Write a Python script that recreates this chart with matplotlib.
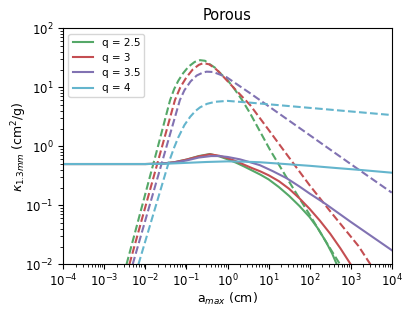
import numpy as np
import matplotlib
matplotlib.use('Agg')
import matplotlib.pyplot as plt

# Colours (old seaborn "deep")
colors = {'2.5': '#55A868', '3': '#C44E52', '3.5': '#8172B2', '4': '#64B5CD'}
q_labels = ['2.5', '3', '3.5', '4']

# Values: log10(a_max [cm]) and log10(kappa [cm^2/g])
# solid lines
solid_logx = {
    '2.5': [-4, -2, -1.64, -1.3, -1.0, -0.7, -0.43, -0.2, 0.0, 0.2, 0.4, 0.6, 0.8, 1.0,
            1.25, 1.5, 1.75, 2.0, 2.2, 2.4, 2.55, 2.66],
    '3':   [-4, -2, -1.64, -1.3, -1.0, -0.7, -0.43, -0.2, 0.0, 0.2, 0.4, 0.6, 0.8, 1.0,
            1.25, 1.5, 1.75, 2.0, 2.25, 2.5, 2.75, 3.0],
    '3.5': [-4, -2, -1.64, -1.3, -1.0, -0.7, -0.4, -0.2, 0.0, 0.3, 0.6, 0.79, 1.1, 1.44,
            1.75, 2.0, 2.375, 3.0, 3.5, 4.0],
    '4':   [-4, -2, -1.5, -1.0, -0.5, 0.0, 0.4, 0.79, 1.4, 2.0, 2.6, 3.23, 4.0],
}
solid_logy = {
    '2.5': [-0.30, -0.30, -0.295, -0.27, -0.225, -0.165, -0.13, -0.17, -0.22, -0.275, -0.34,
            -0.41, -0.48, -0.56, -0.69, -0.84, -1.01, -1.20, -1.39, -1.62, -1.82, -2.0],
    '3':   [-0.30, -0.30, -0.295, -0.27, -0.225, -0.17, -0.135, -0.16, -0.20, -0.25, -0.31,
            -0.37, -0.425, -0.49, -0.59, -0.72, -0.88, -1.06, -1.26, -1.48, -1.73, -2.0],
    '3.5': [-0.30, -0.30, -0.295, -0.275, -0.24, -0.19, -0.165, -0.165, -0.18, -0.22, -0.28,
            -0.32, -0.42, -0.54, -0.68, -0.80, -0.97, -1.28, -1.52, -1.76],
    '4':   [-0.30, -0.30, -0.295, -0.28, -0.265, -0.255, -0.26, -0.27, -0.30, -0.33, -0.365,
            -0.40, -0.447],
}
# dashed lines
dashed_logx = {
    '2.5': [-2.46, -1.72, -1.40, -1.30, -1.2, -1.08, -0.95, -0.8, -0.67, -0.55, -0.45, -0.3,
            -0.18, 0.0, 0.14, 0.35, 0.55, 1.035, 1.5, 2.0, 2.4, 2.74],
    '3':   [-2.39, -1.28, -1.15, -1.0, -0.85, -0.7, -0.59, -0.45, -0.3, -0.18, 0.14, 0.55,
            1.0, 1.36, 2.0, 2.5, 3.19, 3.48],
    '3.5': [-2.31, -1.16, -1.05, -0.9, -0.75, -0.6, -0.51, -0.35, -0.2, -0.02, 0.55, 1.0,
            2.0, 3.0, 4.0],
    '4':   [-2.17, -1.44, -1.3, -1.2, -1.05, -0.91, -0.78, -0.67, -0.5, -0.3, 0.0, 0.55, 4.0],
}
dashed_logy = {
    '2.5': [-2.0, -0.07, 0.78, 0.97, 1.11, 1.24, 1.35, 1.43, 1.46, 1.45, 1.40, 1.33,
            1.24, 1.12, 1.0, 0.79, 0.56, -0.06, -0.6, -1.16, -1.62, -2.0],
    '3':   [-2.0, 0.785, 1.0, 1.17, 1.30, 1.38, 1.41, 1.39, 1.32, 1.24, 1.0, 0.70,
            0.28, -0.06, -0.66, -1.1, -1.69, -2.0],
    '3.5': [-2.0, 0.785, 0.95, 1.10, 1.20, 1.25, 1.265, 1.26, 1.22, 1.17, 0.90, 0.68,
            0.19, -0.30, -0.785],
    '4':   [-2.0, -0.29, -0.02, 0.15, 0.36, 0.50, 0.60, 0.66, 0.72, 0.755, 0.77, 0.74, 0.53],
}

fig = plt.figure(figsize=(4.15, 3.11), dpi=100)
ax = fig.add_axes([0.1525, 0.150, 0.7915, 0.759])

for q in q_labels:
    ax.plot(10**np.array(solid_logx[q]), 10**np.array(solid_logy[q]),
            color=colors[q], lw=1.5, label='q = ' + q)
    ax.plot(10**np.array(dashed_logx[q]), 10**np.array(dashed_logy[q]),
            color=colors[q], lw=1.5, ls='--')

ax.set_xscale('log')
ax.set_yscale('log')
ax.set_xlim(1e-4, 1e4)
ax.set_ylim(1e-2, 1e2)
ax.set_xticks([10.0**k for k in range(-4, 5)])
ax.tick_params(labelsize=8.5)
ax.tick_params(axis='x', pad=2.5)
ax.set_title('Porous', fontsize=10.5)
ax.set_xlabel('a$_{max}$ (cm)', fontsize=9, labelpad=1)
ax.set_ylabel(r'$\kappa_{1.3mm}$ (cm$^2$/g)', fontsize=9)
ax.yaxis.set_label_coords(-0.105, 0.5)
ax.legend(loc='upper left', fontsize=7.5)

fig.savefig('out.png', dpi=100)
